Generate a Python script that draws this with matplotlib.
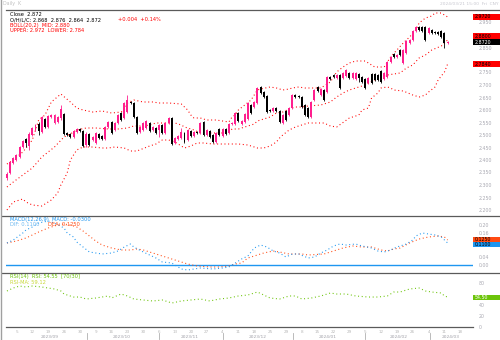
import matplotlib
matplotlib.use("Agg")
import matplotlib.pyplot as plt
from matplotlib.lines import Line2D
from matplotlib.patches import Rectangle
from matplotlib.transforms import blended_transform_factory

# daily candles
opens = [2.328, 2.348, 2.388, 2.400, 2.412, 2.452, 2.484, 2.456, 2.500, 2.520,
         2.544, 2.512, 2.564, 2.532, 2.572, 2.548, 2.552, 2.568, 2.584, 2.508,
         2.504, 2.492, 2.512, 2.524, 2.516, 2.460, 2.504, 2.480, 2.468, 2.504,
         2.496, 2.484, 2.532, 2.552, 2.520, 2.548, 2.588, 2.568, 2.592, 2.632,
         2.628, 2.572, 2.512, 2.520, 2.528, 2.548, 2.520, 2.528, 2.520, 2.540,
         2.508, 2.548, 2.568, 2.468, 2.484, 2.488, 2.508, 2.480, 2.516, 2.496,
         2.512, 2.508, 2.552, 2.500, 2.516, 2.500, 2.472, 2.524, 2.496, 2.524,
         2.508, 2.544, 2.544, 2.588, 2.544, 2.552, 2.564, 2.620, 2.612, 2.628,
         2.692, 2.672, 2.656, 2.600, 2.596, 2.608, 2.596, 2.548, 2.596, 2.580,
         2.608, 2.660, 2.656, 2.652, 2.620, 2.608, 2.572, 2.640, 2.692, 2.660,
         2.680, 2.672, 2.732, 2.740, 2.728, 2.740, 2.728, 2.736, 2.748, 2.728,
         2.724, 2.744, 2.732, 2.724, 2.708, 2.744, 2.744, 2.740, 2.756, 2.724,
         2.732, 2.792, 2.824, 2.812, 2.840, 2.788, 2.828, 2.868, 2.880, 2.916,
         2.932, 2.932, 2.932, 2.908, 2.920, 2.912, 2.912, 2.916, 2.908, 2.868]
highs = [2.352, 2.396, 2.412, 2.424, 2.456, 2.480, 2.488, 2.512, 2.532, 2.544,
         2.552, 2.576, 2.568, 2.580, 2.584, 2.584, 2.576, 2.620, 2.588, 2.512,
         2.508, 2.520, 2.528, 2.528, 2.520, 2.512, 2.508, 2.496, 2.512, 2.508,
         2.500, 2.536, 2.556, 2.556, 2.552, 2.584, 2.592, 2.632, 2.660, 2.636,
         2.632, 2.576, 2.536, 2.552, 2.560, 2.552, 2.536, 2.532, 2.544, 2.544,
         2.552, 2.572, 2.572, 2.492, 2.500, 2.528, 2.512, 2.524, 2.520, 2.516,
         2.516, 2.552, 2.556, 2.524, 2.520, 2.504, 2.512, 2.528, 2.528, 2.528,
         2.548, 2.552, 2.592, 2.592, 2.560, 2.588, 2.632, 2.624, 2.636, 2.692,
         2.696, 2.676, 2.660, 2.604, 2.612, 2.612, 2.600, 2.584, 2.600, 2.612,
         2.664, 2.664, 2.660, 2.656, 2.624, 2.612, 2.636, 2.684, 2.696, 2.688,
         2.684, 2.736, 2.736, 2.744, 2.744, 2.744, 2.752, 2.764, 2.752, 2.752,
         2.752, 2.748, 2.736, 2.728, 2.732, 2.748, 2.748, 2.744, 2.760, 2.752,
         2.796, 2.816, 2.828, 2.824, 2.844, 2.844, 2.880, 2.884, 2.920, 2.936,
         2.936, 2.936, 2.936, 2.932, 2.924, 2.916, 2.916, 2.920, 2.912, 2.876]
lows = [2.320, 2.344, 2.384, 2.396, 2.408, 2.448, 2.452, 2.440, 2.496, 2.516,
        2.500, 2.508, 2.528, 2.528, 2.568, 2.544, 2.548, 2.560, 2.500, 2.496,
        2.488, 2.488, 2.508, 2.512, 2.452, 2.452, 2.456, 2.476, 2.464, 2.484,
        2.480, 2.480, 2.528, 2.504, 2.516, 2.544, 2.556, 2.564, 2.588, 2.624,
        2.568, 2.504, 2.508, 2.516, 2.524, 2.512, 2.516, 2.504, 2.492, 2.504,
        2.504, 2.544, 2.460, 2.464, 2.480, 2.484, 2.468, 2.476, 2.492, 2.492,
        2.504, 2.504, 2.496, 2.496, 2.488, 2.468, 2.468, 2.496, 2.492, 2.500,
        2.504, 2.540, 2.540, 2.552, 2.540, 2.548, 2.560, 2.584, 2.608, 2.624,
        2.664, 2.648, 2.588, 2.592, 2.592, 2.592, 2.548, 2.544, 2.556, 2.576,
        2.604, 2.648, 2.648, 2.608, 2.576, 2.568, 2.568, 2.636, 2.672, 2.656,
        2.636, 2.668, 2.720, 2.728, 2.724, 2.684, 2.724, 2.732, 2.724, 2.724,
        2.720, 2.712, 2.708, 2.684, 2.704, 2.704, 2.716, 2.716, 2.708, 2.720,
        2.728, 2.788, 2.808, 2.808, 2.816, 2.784, 2.824, 2.864, 2.876, 2.912,
        2.916, 2.912, 2.876, 2.904, 2.904, 2.904, 2.900, 2.888, 2.848, 2.864]
closes = [2.344, 2.392, 2.408, 2.420, 2.452, 2.476, 2.468, 2.504, 2.528, 2.540,
          2.516, 2.572, 2.532, 2.576, 2.580, 2.580, 2.572, 2.604, 2.504, 2.500,
          2.492, 2.516, 2.524, 2.516, 2.456, 2.504, 2.460, 2.492, 2.508, 2.488,
          2.484, 2.532, 2.552, 2.508, 2.548, 2.580, 2.560, 2.628, 2.640, 2.628,
          2.572, 2.508, 2.532, 2.548, 2.556, 2.516, 2.532, 2.508, 2.540, 2.508,
          2.548, 2.568, 2.464, 2.488, 2.496, 2.512, 2.472, 2.520, 2.496, 2.512,
          2.508, 2.548, 2.500, 2.520, 2.492, 2.472, 2.508, 2.500, 2.524, 2.504,
          2.544, 2.548, 2.588, 2.556, 2.556, 2.584, 2.628, 2.588, 2.632, 2.688,
          2.668, 2.652, 2.592, 2.596, 2.608, 2.596, 2.552, 2.580, 2.560, 2.608,
          2.660, 2.652, 2.652, 2.612, 2.580, 2.572, 2.632, 2.680, 2.676, 2.684,
          2.640, 2.732, 2.724, 2.732, 2.740, 2.688, 2.748, 2.760, 2.728, 2.748,
          2.748, 2.728, 2.712, 2.688, 2.728, 2.708, 2.720, 2.720, 2.712, 2.748,
          2.792, 2.812, 2.812, 2.820, 2.820, 2.840, 2.876, 2.880, 2.916, 2.932,
          2.920, 2.916, 2.880, 2.928, 2.908, 2.908, 2.904, 2.892, 2.868, 2.872]

# Bollinger bands (20, 2)
upper_idx = [0, 2, 5, 8, 10, 12, 14, 17, 20, 22, 24, 27, 30, 33, 36, 37, 38, 40, 43, 46,
             48, 51, 55, 57, 58, 59, 61, 63, 66, 70, 71, 72, 73, 75, 77, 78, 79, 80, 83, 85,
             87, 89, 90, 92, 94, 99, 102, 104, 106, 108, 110, 113, 114, 116, 119, 121, 123,
             125, 127, 129, 130, 132, 134, 135, 137, 139]
upper = [2.384, 2.400, 2.432, 2.480, 2.560, 2.580, 2.632, 2.664, 2.632, 2.608,
         2.600, 2.592, 2.596, 2.588, 2.592, 2.600, 2.628, 2.640, 2.632, 2.632,
         2.628, 2.628, 2.624, 2.600, 2.580, 2.568, 2.568, 2.560, 2.560, 2.552,
         2.572, 2.580, 2.600, 2.620, 2.640, 2.660, 2.680, 2.684, 2.692, 2.688,
         2.680, 2.684, 2.688, 2.692, 2.688, 2.688, 2.712, 2.752, 2.772, 2.788,
         2.796, 2.796, 2.788, 2.772, 2.772, 2.812, 2.840, 2.868, 2.892, 2.920,
         2.948, 2.968, 2.976, 2.988, 2.988, 2.972]
mid_idx = [0, 2, 5, 8, 11, 15, 18, 20, 22, 25, 28, 32, 35, 38, 40, 43, 45, 47, 53, 55,
           56, 59, 61, 65, 68, 70, 71, 73, 74, 76, 78, 79, 81, 83, 85, 87, 89, 91, 93, 95,
           99, 102, 104, 106, 108, 111, 113, 117, 120, 122, 124, 126, 128, 130, 132, 134,
           137, 139]
mid = [2.292, 2.312, 2.340, 2.368, 2.412, 2.452, 2.492, 2.504, 2.520, 2.528,
       2.528, 2.524, 2.524, 2.528, 2.536, 2.536, 2.540, 2.548, 2.548, 2.540,
       2.532, 2.520, 2.508, 2.508, 2.508, 2.512, 2.524, 2.524, 2.528, 2.536,
       2.544, 2.556, 2.564, 2.572, 2.588, 2.592, 2.604, 2.612, 2.612, 2.616,
       2.620, 2.632, 2.652, 2.668, 2.680, 2.692, 2.700, 2.728, 2.740, 2.744,
       2.748, 2.768, 2.780, 2.808, 2.820, 2.840, 2.856, 2.880]
lower_idx = [0, 2, 5, 6, 8, 11, 14, 16, 17, 19, 20, 22, 24, 27, 30, 32, 34, 37, 39, 41,
             45, 47, 49, 51, 53, 55, 56, 58, 60, 62, 65, 70, 73, 76, 77, 79, 81, 83, 85, 86,
             87, 89, 91, 93, 95, 97, 100, 102, 104, 108, 110, 111, 112, 114, 115, 117, 118,
             120, 121, 122, 125, 128, 130, 132, 133, 135, 136, 138, 139]
lower = [2.200, 2.232, 2.244, 2.232, 2.220, 2.216, 2.240, 2.268, 2.300, 2.348,
         2.400, 2.440, 2.452, 2.452, 2.448, 2.448, 2.452, 2.448, 2.436, 2.436,
         2.456, 2.464, 2.480, 2.480, 2.472, 2.456, 2.448, 2.456, 2.468, 2.468,
         2.464, 2.464, 2.464, 2.460, 2.456, 2.448, 2.448, 2.456, 2.472, 2.488,
         2.500, 2.520, 2.532, 2.540, 2.548, 2.548, 2.548, 2.536, 2.532, 2.568,
         2.576, 2.580, 2.600, 2.608, 2.648, 2.668, 2.688, 2.692, 2.688, 2.680,
         2.676, 2.660, 2.652, 2.660, 2.672, 2.692, 2.720, 2.752, 2.784]

# MACD (12, 26, 9)
dif_idx = [0, 2, 5, 6, 8, 10, 13, 15, 18, 19, 21, 22, 24, 26, 28, 30, 33, 35, 37, 39,
           40, 43, 45, 47, 49, 52, 55, 57, 61, 65, 68, 70, 73, 74, 76, 78, 80, 82, 84, 86,
           88, 90, 92, 95, 97, 99, 101, 103, 105, 107, 110, 112, 115, 117, 119, 121, 123,
           126, 128, 129, 131, 133, 135, 137, 138, 139]
dif = [0.110, 0.125, 0.160, 0.175, 0.190, 0.210, 0.220, 0.210, 0.185, 0.160,
       0.140, 0.115, 0.090, 0.065, 0.060, 0.055, 0.060, 0.070, 0.090, 0.105,
       0.090, 0.065, 0.050, 0.035, 0.015, 0.010, -0.020, -0.025, -0.015, -0.020,
       -0.015, -0.010, 0.020, 0.030, 0.045, 0.085, 0.100, 0.090, 0.070, 0.060,
       0.040, 0.055, 0.055, 0.035, 0.040, 0.060, 0.075, 0.095, 0.105, 0.100,
       0.105, 0.095, 0.085, 0.070, 0.065, 0.075, 0.090, 0.105, 0.125, 0.145,
       0.160, 0.155, 0.150, 0.140, 0.125, 0.110]
dea_idx = [0, 3, 6, 8, 10, 13, 16, 18, 20, 22, 24, 26, 28, 30, 33, 36, 39, 41, 43, 46,
           49, 52, 55, 57, 60, 64, 67, 70, 72, 74, 76, 81, 84, 86, 89, 91, 93, 95, 100,
           106, 109, 112, 115, 118, 120, 122, 124, 127, 130, 133, 136, 138, 139]
dea = [0.110, 0.120, 0.135, 0.150, 0.165, 0.185, 0.200, 0.205, 0.200, 0.190,
       0.170, 0.145, 0.120, 0.100, 0.085, 0.075, 0.075, 0.080, 0.075, 0.060,
       0.045, 0.030, 0.015, 0.005, -0.005, -0.010, -0.010, -0.005, 0.005, 0.010,
       0.035, 0.060, 0.070, 0.065, 0.055, 0.055, 0.055, 0.050, 0.055,
       0.085, 0.095, 0.090, 0.090, 0.075, 0.070, 0.080, 0.085, 0.110, 0.130,
       0.140, 0.145, 0.140, 0.125]

# RSI
rsi_idx = [0, 2, 4, 6, 8, 11, 15, 17, 18, 21, 23, 25, 28, 32, 33, 36, 38, 40, 43, 46,
           49, 51, 52, 55, 58, 61, 64, 67, 70, 73, 76, 79, 81, 83, 86, 89, 91, 93, 96, 99,
           102, 104, 107, 110, 114, 117, 120, 122, 124, 127, 130, 132, 134, 137, 138, 139]
rsi = [65.5, 70.9, 74.5, 72.7, 74.5, 72.7, 69.1, 65.5, 60.0, 54.5,
       54.5, 50.9, 52.7, 56.4, 52.7, 60.0, 56.4, 50.9, 49.1, 47.3,
       49.1, 45.5, 43.6, 47.3, 49.1, 50.9, 47.3, 50.9, 52.7, 56.4,
       58.2, 63.6, 58.2, 52.7, 50.9, 56.4, 56.4, 50.9, 52.7, 56.4,
       61.8, 60.0, 60.0, 56.4, 54.5, 54.5, 56.4, 63.6, 63.6, 69.1,
       70.9, 65.5, 63.6, 61.8, 56.4, 54.5]

price_ticks = [2.20, 2.25, 2.30, 2.35, 2.40, 2.45, 2.50, 2.55,
               2.60, 2.65, 2.70, 2.75, 2.80, 2.85, 2.90, 2.95]
macd_ticks = [0.00, 0.04, 0.08, 0.12, 0.16, 0.20]
rsi_ticks = [0, 20, 40, 60, 80]

week_pos = [3, 8, 13, 18, 23, 28, 33, 38, 43, 48, 53, 58, 63, 68, 73,
            78, 83, 88, 93, 98, 103, 108, 113, 118, 123, 128, 133, 138, 143]
week_labels = ["5", "12", "19", "26", "30", "9", "16", "23", "30", "6", "13", "20", "27",
               "4", "11", "18", "25", "29", "8", "15", "22", "29", "5", "12", "19", "26",
               "4", "11", "18"]
month_pos = [13.6, 36.3, 57.7, 79.2, 101.3, 123.4, 139.8]
month_labels = ["2023/09", "2023/10", "2023/11", "2023/12", "2024/01", "2024/02", "2024/03"]
month_breaks = [25.3, 48, 68.1, 90.2, 113, 133.4]

UP = "#ff1f8e"
DOWN = "#000000"
BAND = "#ff0000"
DIF_C = "#1e96f0"
DEA_C = "#ff4a12"
RSI_C = "#6cc40a"
GRID = "#5a5a5a"
LBL = "#a9a9b2"

W, H = 500, 340
fig = plt.figure(figsize=(W / 100, H / 100), dpi=100)
fig.patch.set_facecolor("white")


def fx(px):
    return px / W


def fy(py):
    return 1 - py / H


def panel(top, bottom):
    ax = fig.add_axes([fx(6), fy(bottom), fx(473) - fx(6), (bottom - top) / H])
    ax.set_xlim(-0.3, 147)
    for s in ax.spines.values():
        s.set_visible(False)
    ax.yaxis.tick_right()
    ax.tick_params(axis="y", length=0, labelsize=3.4, labelcolor=LBL, pad=4)
    ax.tick_params(axis="x", length=0)
    ax.set_xticks([])
    ax.patch.set_alpha(0)
    return ax


def px_per_unit(a):
    lo, hi = a.get_ylim()
    return a.get_position().height * H / (hi - lo)


def tick_labels(a, ticks, fmt, boxes, gap=5.0):
    # labels that would sit under a value box are left blank
    k = px_per_unit(a)
    out = []
    for t in ticks:
        hidden = any(abs(t - (v - d / k)) * k < gap for v, d in boxes)
        out.append("" if hidden else fmt % t)
    a.set_yticks(ticks)
    a.set_yticklabels(out)


ax = panel(10, 216)
ax_macd = panel(216, 272)
ax_rsi = panel(272, 327)

ax.set_ylim(2.176, 3.00)
ax_macd.set_ylim(-0.035, 0.245)
ax_rsi.set_ylim(0, 100)

dots = (0, (0.9, 2.4))

# candles
idx = list(range(len(closes)))
for i in idx:
    o, c = opens[i], closes[i]
    col = UP if c >= o else DOWN
    ax.vlines(i, lows[i], highs[i], color=col, lw=0.6, zorder=3)
    ax.bar(i, max(abs(c - o), 0.003), bottom=min(o, c), width=0.62,
           color=col, linewidth=0, zorder=3)

ax.plot(upper_idx, upper, color=BAND, lw=0.8, ls=dots, zorder=2)
ax.plot(mid_idx, mid, color=BAND, lw=0.8, ls=dots, zorder=2)
ax.plot(lower_idx, lower, color=BAND, lw=0.8, ls=dots, zorder=2)

ax_macd.axhline(0, color=DIF_C, lw=1.0)
ax_macd.plot(dea_idx, dea, color=DEA_C, lw=0.8, ls=dots)
ax_macd.plot(dif_idx, dif, color=DIF_C, lw=0.8, ls=dots)

ax_rsi.plot(rsi_idx, rsi, color=RSI_C, lw=0.8, ls=dots)

# value boxes: (value, pixel shift)
main_boxes = [(upper[-1], 0), (mid[-1], -4), (closes[-1], 0), (lower[-1], 0)]
macd_boxes = [(dea[-1], -1), (dif[-1], 1)]
rsi_boxes = [(rsi[-1], 0)]

tick_labels(ax, price_ticks, "%.3f", main_boxes)
tick_labels(ax_macd, macd_ticks, "%.2f", macd_boxes)
tick_labels(ax_rsi, rsi_ticks, "%d", rsi_boxes)

# weekly date ticks
ax_rsi.set_xticks(week_pos)
ax_rsi.set_xticklabels(week_labels)
ax_rsi.tick_params(axis="x", labelsize=3.0, labelcolor="#b8b8b8", pad=2)
tr = blended_transform_factory(ax_rsi.transData, fig.transFigure)
for p, m in zip(month_pos, month_labels):
    ax_rsi.text(p, fy(337), m, transform=tr, fontsize=3.2, color="#a0a0a8",
                ha="center", va="center", clip_on=False)
for b in month_breaks:
    ax_rsi.add_line(Line2D([b, b], [fy(333), fy(339)], transform=tr, color="#b0b0b0",
                           lw=0.6, clip_on=False))


def value_box(a, value, dy, face, fg, text):
    upp = 1.0 / px_per_unit(a)
    y = value - dy * upp
    t = blended_transform_factory(fig.transFigure, a.transData)
    a.add_patch(Rectangle((fx(473), y - 2.5 * upp), fx(500) - fx(473), 5.0 * upp,
                          transform=t, facecolor=face, edgecolor="none",
                          clip_on=False, zorder=6))
    a.text(fx(474.5), y, text, transform=t, fontsize=3.4, color=fg,
           va="center", ha="left", clip_on=False, zorder=7)


value_box(ax, *main_boxes[0], "#ff0000", "#000000", "%.4f" % upper[-1])
value_box(ax, *main_boxes[1], "#ff0000", "#000000", "%.4f" % mid[-1])
value_box(ax, *main_boxes[2], "#000000", "#ffffff", "%.4f" % closes[-1])
value_box(ax, *main_boxes[3], "#ff0000", "#000000", "%.4f" % lower[-1])
value_box(ax_macd, *macd_boxes[0], DEA_C, "#000000", "%.4f" % dea[-1])
value_box(ax_macd, *macd_boxes[1], DIF_C, "#000000", "%.4f" % dif[-1])
value_box(ax_rsi, *rsi_boxes[0], RSI_C, "#ffffff", "%.2f" % rsi[-1])

# frame lines
fig.add_artist(Line2D([fx(6), 1], [fy(10), fy(10)], color=GRID, lw=0.9))
fig.add_artist(Line2D([fx(2), 1], [fy(216), fy(216)], color=GRID, lw=0.9))
fig.add_artist(Line2D([fx(2), 1], [fy(272.5), fy(272.5)], color=GRID, lw=0.9))
fig.add_artist(Line2D([fx(6), fx(473)], [fy(327), fy(327)], color=GRID, lw=0.9))
fig.add_artist(Line2D([fx(0.6), fx(0.6)], [0, 1], color="#a0a0a0", lw=1.0))

# headers
fs = 3.7
fig.text(fx(3), fy(4), "Daily  K", fontsize=3.4, color="#c0c0c0", va="center")
fig.text(fx(498), fy(4), "2024/03/21 15:00  Fri  CNY", fontsize=3.2, color="#c8c8d0",
         va="center", ha="right")
fig.text(fx(10), fy(14), "Close  2.872", fontsize=fs, color="#000000", va="center")
fig.text(fx(10), fy(19.5), "O/H/L/C: 2.868  2.876  2.864  2.872  ", fontsize=fs,
         color="#000000", va="center")
fig.text(fx(118), fy(19.5), "+0.004  +0.14%", fontsize=fs, color="#ff0000", va="center")
fig.text(fx(10), fy(25), "BOLL(20,2)  MID: 2.880", fontsize=fs, color="#ff0000", va="center")
fig.text(fx(10), fy(30.5), "UPPER: 2.972  LOWER: 2.784", fontsize=fs, color="#ff0000",
         va="center")

fig.text(fx(10), fy(219.5), "MACD(12,26,9)  MACD: -0.0300", fontsize=fs, color=DIF_C,
         va="center")
fig.text(fx(10), fy(225), "DIF: 0.1100", fontsize=fs, color="#6cb8f0", va="center")
fig.text(fx(48), fy(225), "DEA: 0.1250", fontsize=fs, color=DEA_C, va="center")

fig.text(fx(10), fy(276.5), "RSI(14)  RSI: 54.55  [70/30]", fontsize=fs, color=RSI_C,
         va="center")
fig.text(fx(10), fy(282), "RSI-MA: 59.12", fontsize=fs, color="#c8d838", va="center")

fig.savefig("out.png", dpi=100)
